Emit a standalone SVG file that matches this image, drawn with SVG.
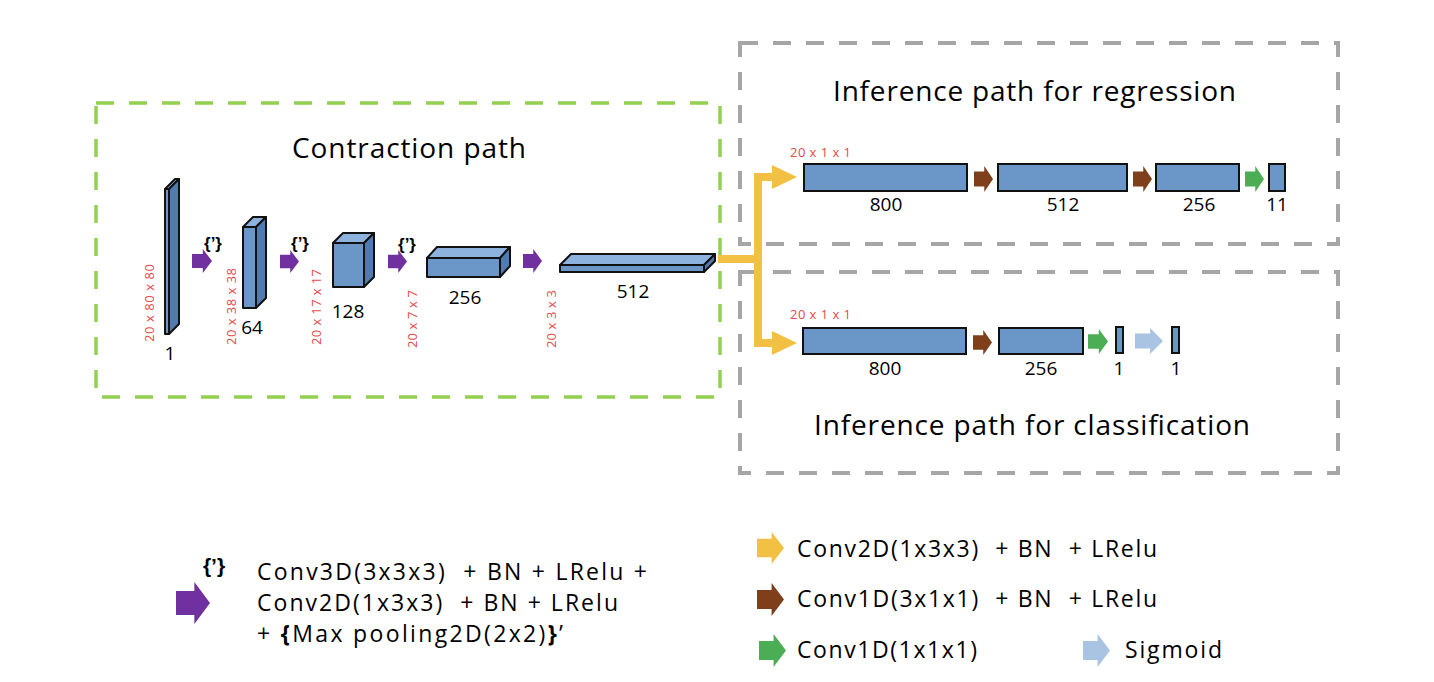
<svg xmlns="http://www.w3.org/2000/svg" width="1434" height="682" viewBox="0 0 1434 682">
<defs>
<style>
text { font-family: "Open Sans", "Noto Sans", "Liberation Sans", sans-serif; fill: #000; }
.title { font-size: 28px; }
.num { font-size: 19px; text-anchor: middle; }
.dim { font-size: 13px; fill: #e84848; }
.leg { font-size: 23px; white-space: pre; }
.leg2 { font-size: 23px; white-space: pre; }
.brace { font-family: "Liberation Sans", "DejaVu Sans", sans-serif; font-weight: bold; font-size: 17px; }
.b { font-weight: bold; }
.front { fill: #6b97c8; stroke: #111; stroke-width: 2; stroke-linejoin: round; }
.topf { fill: #8db2de; stroke: #111; stroke-width: 2; stroke-linejoin: round; }
.side { fill: #4f7bb0; stroke: #111; stroke-width: 2; stroke-linejoin: round; }
.box { fill: #6b97c8; stroke: #111; stroke-width: 2; }
.purple { fill: #7030a0; }
.brown { fill: #7f3f1a; }
.green { fill: #4cae54; }
.lblue { fill: #a9c4e3; }
.yellow { fill: #f2c043; }
.gbox { fill: none; stroke: #a6a6a6; stroke-width: 4; stroke-dasharray: 18 15; }
.grbox { fill: none; stroke: #92d050; stroke-width: 3.5; stroke-dasharray: 18 15; }
.yline { fill: none; stroke: #f2c043; stroke-width: 8; stroke-linejoin: miter; }
</style>
<symbol id="arr" viewBox="0 0 20 26" preserveAspectRatio="none">
<path d="M0,5.5 H10.8 V0 L20,13 L10.8,26 V20.5 H0 Z"/>
</symbol>
</defs>
<rect width="1434" height="682" fill="#fff"/>

<g id="frames">
<rect class="grbox" x="96" y="103" width="624" height="294"/>
<rect class="gbox" x="740" y="43" width="598" height="201"/>
<rect class="gbox" x="740" y="272" width="598" height="201"/>
<text class="title" x="292" y="158" textLength="234">Contraction path</text>
<text class="title" x="833" y="101" textLength="403">Inference path for regression</text>
<text class="title" x="814" y="435" textLength="436">Inference path for classification</text>
</g>

<g id="contraction">
<g id="block1">
<rect class="front" x="165" y="189" width="4" height="145"/>
<polygon class="topf" points="165,189 175,179 179,179 169,189"/>
<polygon class="side" points="169,189 179,179 179,324 169,334"/>
<text class="num" x="170" y="360">1</text>
<text class="dim" transform="translate(154,342) rotate(-90)" textLength="78">20 x 80 x 80</text>
</g>
<g id="block2">
<rect class="front" x="243" y="227" width="13" height="81"/>
<polygon class="topf" points="243,227 253,217 266,217 256,227"/>
<polygon class="side" points="256,227 266,217 266,298 256,308"/>
<text class="num" x="252" y="334">64</text>
<text class="dim" transform="translate(236,345) rotate(-90)" textLength="77">20 x 38 x 38</text>
</g>
<g id="block3">
<rect class="front" x="333" y="243" width="31" height="44"/>
<polygon class="topf" points="333,243 343,233 374,233 364,243"/>
<polygon class="side" points="364,243 374,233 374,277 364,287"/>
<text class="num" x="348" y="318">128</text>
<text class="dim" transform="translate(321,345) rotate(-90)" textLength="76">20 x 17 x 17</text>
</g>
<g id="block4">
<rect class="front" x="427" y="258" width="73" height="19"/>
<polygon class="topf" points="427,258 437,247 510,247 500,258"/>
<polygon class="side" points="500,258 510,247 510,266 500,277"/>
<text class="num" x="465" y="304">256</text>
<text class="dim" transform="translate(417,348) rotate(-90)" textLength="58">20 x 7 x 7</text>
</g>
<g id="block5">
<rect class="front" x="560" y="265" width="144" height="7"/>
<polygon class="topf" points="560,265 571,254 715,254 704,265"/>
<polygon class="side" points="704,265 715,254 715,261 704,272"/>
<text class="num" x="633" y="298">512</text>
<text class="dim" transform="translate(556,348) rotate(-90)" textLength="58">20 x 3 x 3</text>
</g>
</g>

<g id="regression">
<text class="dim" x="790" y="157" textLength="61">20 x 1 x 1</text>
<g id="reg800"><rect class="box" x="804" y="164" width="163" height="27"/><text class="num" x="886" y="211">800</text></g>
<g id="reg512"><rect class="box" x="998" y="164" width="129" height="27"/><text class="num" x="1063" y="211">512</text></g>
<g id="reg256"><rect class="box" x="1156" y="164" width="83" height="27"/><text class="num" x="1199" y="211">256</text></g>
<g id="reg11"><rect class="box" x="1269" y="164" width="16" height="27"/><text class="num" x="1277" y="211">11</text></g>
</g>

<g id="classification">
<text class="dim" x="790" y="319" textLength="61">20 x 1 x 1</text>
<g id="cls800"><rect class="box" x="803" y="328" width="163" height="26"/><text class="num" x="885" y="375">800</text></g>
<g id="cls256"><rect class="box" x="999" y="328" width="84" height="26"/><text class="num" x="1041" y="375">256</text></g>
<g id="cls1a"><rect class="box" x="1116" y="327" width="7" height="26"/><text class="num" x="1119" y="375">1</text></g>
<g id="cls1b"><rect class="box" x="1172" y="327" width="7" height="26"/><text class="num" x="1176" y="375">1</text></g>
</g>

<g id="connectors">
<use href="#arr" class="purple" x="192" y="249" width="20" height="24"/>
<use href="#arr" class="purple" x="280" y="250" width="19" height="23"/>
<use href="#arr" class="purple" x="388" y="250" width="19" height="23"/>
<use href="#arr" class="purple" x="523" y="249" width="19" height="24"/>
<text class="brace" x="213" y="249" text-anchor="middle">{’}</text>
<text class="brace" x="300" y="249" text-anchor="middle">{’}</text>
<text class="brace" x="407" y="250" text-anchor="middle">{’}</text>

<path class="yline" d="M718,259 H762"/>
<path class="yline" d="M758,259 V177 H774"/>
<path class="yline" d="M758,259 V343 H774"/>
<polygon class="yellow" points="772,165 797,177 772,189"/>
<polygon class="yellow" points="772,331 797,343 772,355"/>

<use href="#arr" class="brown" x="974" y="166" width="19" height="26"/>
<use href="#arr" class="brown" x="1133" y="166" width="19" height="26"/>
<use href="#arr" class="green" x="1245" y="166" width="19" height="26"/>

<use href="#arr" class="brown" x="973" y="330" width="19" height="25"/>
<use href="#arr" class="green" x="1088" y="329" width="20" height="25"/>
<use href="#arr" class="lblue" x="1135" y="328" width="28" height="26"/>
</g>

<g id="legend">
<use href="#arr" class="purple" x="176" y="582" width="34" height="42"/>
<text class="brace" x="214" y="573" text-anchor="middle" style="font-size:21px">{’}</text>
<text class="leg" x="257" y="580" textLength="390" xml:space="preserve">Conv3D(3x3x3)  + BN + LRelu +</text>
<text class="leg" x="257" y="611" textLength="361" xml:space="preserve">Conv2D(1x3x3)  + BN + LRelu</text>
<text class="leg" x="257" y="642" textLength="306" xml:space="preserve">+ <tspan class="b">{</tspan>Max pooling2D(2x2)<tspan class="b">}</tspan>’</text>

<use href="#arr" class="yellow" x="757" y="532" width="27" height="32"/>
<text class="leg2" x="797" y="557" textLength="360" xml:space="preserve">Conv2D(1x3x3)  + BN  + LRelu</text>
<use href="#arr" class="brown" x="757" y="583" width="27" height="33"/>
<text class="leg2" x="797" y="607" textLength="360" xml:space="preserve">Conv1D(3x1x1)  + BN  + LRelu</text>
<use href="#arr" class="green" x="759" y="634" width="27" height="33"/>
<text class="leg2" x="797" y="658" textLength="180">Conv1D(1x1x1)</text>
<use href="#arr" class="lblue" x="1083" y="634" width="27" height="33"/>
<text class="leg2" x="1125" y="658" textLength="97">Sigmoid</text>
</g>
</svg>
